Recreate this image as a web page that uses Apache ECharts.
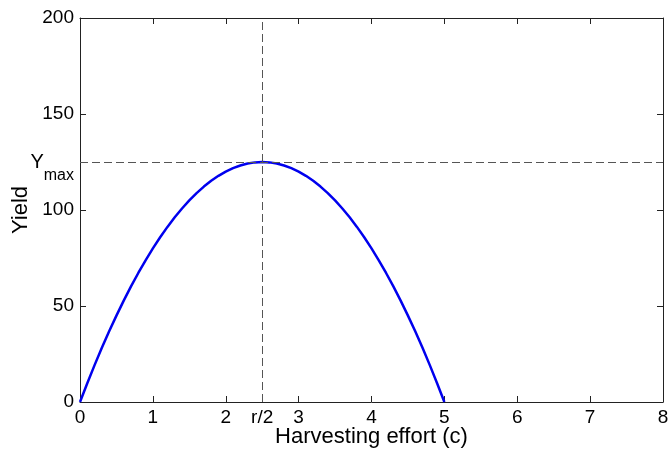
<!DOCTYPE html>
<html>
<head>
<meta charset="utf-8">
<script src="https://cdn.jsdelivr.net/npm/echarts@6/dist/echarts.min.js"></script>
<style>
html,body{margin:0;padding:0;background:#fff;}
#chart{width:669px;height:454px;}
</style>
</head>
<body>
<div id="chart"></div>
<script>
// Data
const effort = [0, 0.1, 0.2, 0.3, 0.4, 0.5, 0.6, 0.7, 0.8, 0.9, 1.0, 1.1, 1.2, 1.3, 1.4, 1.5, 1.6, 1.7, 1.8, 1.9, 2.0, 2.1, 2.2, 2.3, 2.4, 2.5,
                2.6, 2.7, 2.8, 2.9, 3.0, 3.1, 3.2, 3.3, 3.4, 3.5, 3.6, 3.7, 3.8, 3.9, 4.0, 4.1, 4.2, 4.3, 4.4, 4.5, 4.6, 4.7, 4.8, 4.9, 5.0];
const yieldValues = [0, 9.8, 19.2, 28.2, 36.8, 45, 52.8, 60.2, 67.2, 73.8, 80, 85.8, 91.2, 96.2, 100.8, 105, 108.8, 112.2, 115.2, 117.8, 120, 121.8, 123.2, 124.2, 124.8, 125,
                     124.8, 124.2, 123.2, 121.8, 120, 117.8, 115.2, 112.2, 108.8, 105, 100.8, 96.2, 91.2, 85.8, 80, 73.8, 67.2, 60.2, 52.8, 45, 36.8, 28.2, 19.2, 9.8, 0];
const xTickValues = [0, 1, 2, 3, 4, 5, 6, 7, 8];
const xLabelValues = [0, 1, 2, 2.5, 3, 4, 5, 6, 7, 8];
const yTickValues = [0, 50, 100, 150, 200];
const yLabelValues = [0, 50, 100, 125, 150, 200];
const rHalf = 2.5;
const yMax = 125;

const FONT = "'Liberation Sans', Arial, sans-serif";
const chart = echarts.init(document.getElementById('chart'), null, {renderer: 'canvas'});

function tickStyle(vals) {
  return {show: true, inside: true, length: 6, customValues: vals, lineStyle: {color: '#222', width: 1}};
}
const lineStyleAxis = {show: true, onZero: false, lineStyle: {color: '#222', width: 1}};

chart.setOption({
  backgroundColor: '#fff',
  animation: false,
  grid: {left: 80, right: 6, top: 18, bottom: 52, containLabel: false, outerBoundsMode: 'none'},
  xAxis: [{
    type: 'value', min: 0, max: 8, position: 'bottom',
    axisLine: lineStyleAxis,
    axisTick: tickStyle(xTickValues),
    splitLine: {show: false},
    axisLabel: {
      customValues: xLabelValues, margin: 6,
      color: '#000', fontSize: 19, fontFamily: FONT,
      formatter: v => (v === rHalf ? 'r/2' : String(v))
    },
    name: 'Harvesting effort (c)', nameLocation: 'middle', nameGap: 24, nameMoveOverlap: false,
    nameTextStyle: {color: '#000', fontSize: 22, fontFamily: FONT}
  }, {
    type: 'value', min: 0, max: 8, position: 'top',
    axisLine: lineStyleAxis,
    axisTick: tickStyle(xTickValues),
    splitLine: {show: false},
    axisLabel: {show: false}
  }],
  yAxis: [{
    type: 'value', min: 0, max: 200, position: 'left',
    axisLine: lineStyleAxis,
    axisTick: tickStyle(yTickValues),
    splitLine: {show: false},
    axisLabel: {
      customValues: yLabelValues, margin: 6,
      color: '#000', fontSize: 19, fontFamily: FONT,
      formatter: v => (v === yMax ? '{y|Y}{s|max}' : String(v)),
      rich: {
        y: {fontSize: 20, fontFamily: FONT, color: '#000', lineHeight: 44},
        s: {fontSize: 16, fontFamily: FONT, color: '#000', lineHeight: 16, verticalAlign: 'bottom'}
      }
    },
    name: 'Yield', nameLocation: 'middle', nameGap: 48, nameMoveOverlap: false,
    nameTextStyle: {color: '#000', fontSize: 22, fontFamily: FONT}
  }, {
    type: 'value', min: 0, max: 200, position: 'right',
    axisLine: lineStyleAxis,
    axisTick: tickStyle(yTickValues),
    splitLine: {show: false},
    axisLabel: {show: false}
  }],
  series: [{
    type: 'line',
    data: effort.map((x, i) => [x, yieldValues[i]]),
    showSymbol: false,
    smooth: false,
    lineStyle: {color: '#0000ee', width: 2.5},
    itemStyle: {color: '#0000ee'},
    z: 3,
    markLine: {
      silent: true,
      symbol: ['none', 'none'],
      label: {show: false},
      lineStyle: {color: '#555', type: [8, 4], width: 1},
      data: [{xAxis: rHalf}, {yAxis: yMax}]
    }
  }]
});
</script>
</body>
</html>
